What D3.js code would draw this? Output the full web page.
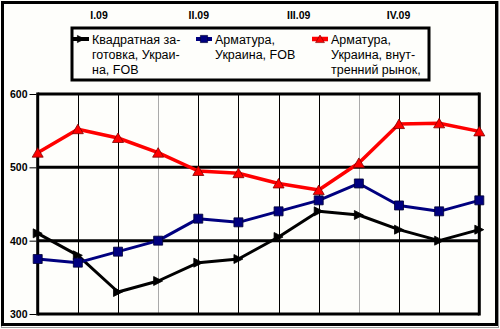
<!DOCTYPE html>
<html>
<head>
<meta charset="utf-8">
<script src="https://cdn.jsdelivr.net/npm/d3@7/dist/d3.min.js"></script>
<style>
  html, body { margin: 0; padding: 0; background: #fefefb; }
  svg { display: block; font-family: "Liberation Sans", Arial, sans-serif; }
</style>
</head>
<body>
<svg id="chart" width="500" height="329"></svg>
<script>
// Monthly prices, 2009 (USD/t)
const months = ["01.09","02.09","03.09","04.09","05.09","06.09","07.09","08.09","09.09","10.09","11.09","12.09"];
const quarters = ["I.09", "II.09", "III.09", "IV.09"];
const billet = [410, 380, 330, 345, 370, 375, 405, 440, 435, 415, 400, 415];
const rebarFob = [375, 370, 385, 400, 430, 425, 440, 455, 478, 448, 440, 455];
const rebarDomestic = [520, 552, 540, 520, 495, 492, 478, 469, 506, 559, 560, 549];
const yTicks = [300, 400, 500, 600];

const seriesNames = [
  ["Квадратная за-", "готовка, Украи-", "на, FOB"],
  ["Арматура,", "Украина, FOB"],
  ["Арматура,", "Украина, внут-", "тренний рынок,"]
];

const svg = d3.select("#chart");
const W = 500, H = 329;

const x = d3.scalePoint().domain(months).range([37.7, 479.3]);
const y = d3.scaleLinear().domain([300, 600]).range([314, 94]);
const xq = d3.scalePoint().domain(quarters).range([99, 398.5]);

// outer frame
svg.append("rect").attr("x", 1.5).attr("y", 1.5).attr("width", W - 3).attr("height", H - 3)
  .attr("fill", "none").attr("stroke", "#999").attr("stroke-width", 1);
svg.append("rect").attr("x", 2.5).attr("y", 2.5).attr("width", 494).attr("height", 322)
  .attr("fill", "none").attr("stroke", "#000").attr("stroke-width", 3);

// quarter labels
svg.append("g").selectAll("text").data(quarters).join("text")
  .attr("x", d => xq(d)).attr("y", 18.5)
  .attr("text-anchor", "middle").attr("font-size", 10.5).attr("font-weight", "bold")
  .text(d => d);

// vertical gridlines, snapped to the pixel grid so they stay crisp
const snap = v => Math.round(v) + 0.5;
const grid = svg.append("g");
grid.selectAll("line.v").data(months.slice(1, -1)).join("line")
  .attr("class", "v")
  .attr("x1", d => snap(x(d))).attr("x2", d => snap(x(d)))
  .attr("y1", y(600)).attr("y2", y(300))
  .attr("stroke", (d, i) => (i === 2 || i === 7) ? "#aaa" : "#000")
  .attr("stroke-width", 1);

// horizontal gridlines
grid.selectAll("line.h").data(yTicks).join("line")
  .attr("class", "h")
  .attr("x1", 37.7).attr("x2", 479.3)
  .attr("y1", d => y(d)).attr("y2", d => y(d))
  .attr("stroke", "#000").attr("stroke-width", 3);

// side borders of the plot area
grid.append("line").attr("x1", 37.7).attr("x2", 37.7).attr("y1", y(600) - 1.5).attr("y2", y(300) + 1.5)
  .attr("stroke", "#000").attr("stroke-width", 3);
grid.append("line").attr("x1", 479.3).attr("x2", 479.3).attr("y1", y(600) - 1.5).attr("y2", y(300) + 1.5)
  .attr("stroke", "#000").attr("stroke-width", 3);

// y axis
const yAxis = d3.axisLeft(y).tickValues(yTicks).tickSize(7).tickPadding(2);
const ya = svg.append("g").attr("transform", "translate(36.5,0)").call(yAxis);
ya.select(".domain").remove();
ya.selectAll("text").attr("font-size", 10.5).attr("font-weight", "bold")
  .attr("font-family", "Liberation Sans, Arial, sans-serif").attr("fill", "#000");
ya.selectAll("line").attr("stroke", "#000");

// markers
const arrow = "M-4.5,-4.5L4.5,0L-4.5,4.5Z";
const square = "M-4.5,-4.5H4.5V4.5H-4.5Z";
const tri = "M0,-5L5.5,4.5H-5.5Z";

const series = [
  { values: billet, color: "#000", stroke: "#000", marker: arrow, w: 3 },
  { values: rebarFob, color: "#00007f", stroke: "#000033", marker: square, w: 3 },
  { values: rebarDomestic, color: "#ff0000", stroke: "#800000", marker: tri, w: 3.5 }
];

const line = d3.line().x((d, i) => x(months[i])).y(d => y(d));

series.forEach(s => {
  const g = svg.append("g");
  g.append("path").datum(s.values).attr("d", line)
    .attr("fill", "none").attr("stroke", s.color).attr("stroke-width", s.w)
    .attr("stroke-linejoin", "round");
  g.selectAll("path.m").data(s.values).join("path").attr("class", "m")
    .attr("transform", (d, i) => `translate(${x(months[i])},${y(d)})`)
    .attr("d", s.marker)
    .attr("fill", s.color).attr("stroke", s.stroke).attr("stroke-width", 0.8);
});

// legend
const lg = svg.append("g");
lg.append("rect").attr("x", 72).attr("y", 28).attr("width", 357).attr("height", 52)
  .attr("fill", "#fefefb").attr("stroke", "#000").attr("stroke-width", 3);
const legendX = [73, 196, 312];
series.forEach((s, k) => {
  const lx = legendX[k];
  lg.append("line").attr("x1", lx).attr("x2", lx + 16).attr("y1", 39).attr("y2", 39)
    .attr("stroke", s.color).attr("stroke-width", s.w + 1);
  lg.append("path").attr("transform", `translate(${lx + 8},39) scale(0.8)`)
    .attr("d", s.marker).attr("fill", s.color).attr("stroke", s.stroke).attr("stroke-width", 0.8);
  const t = lg.append("text").attr("x", lx + 19).attr("y", 43.5).attr("font-size", 12.5);
  seriesNames[k].forEach((ln, j) => {
    t.append("tspan").attr("x", lx + 19).attr("dy", j === 0 ? 0 : 15).text(ln);
  });
});
</script>
</body>
</html>
